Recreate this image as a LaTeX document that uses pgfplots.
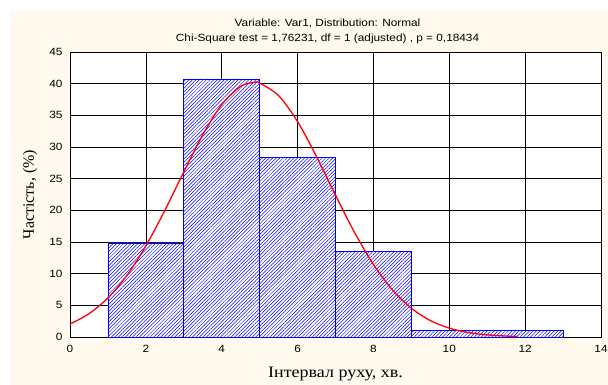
\documentclass[border=0pt]{standalone}
\usepackage{fontspec}
\setmainfont{Liberation Serif}
\newfontfamily\arialS{Liberation Sans}[FakeStretch=1.13]
\newfontfamily\timesS{Liberation Serif}[FakeStretch=1.13]
\usepackage{pgfplots}
\pgfplotsset{compat=1.18}
\usetikzlibrary{patterns.meta}
\definecolor{cream}{HTML}{FFF9EE}
\definecolor{barblue}{RGB}{0,0,255}

\begin{document}
\begin{tikzpicture}
\useasboundingbox (-70bp,-48bp) rectangle (538bp,337bp);
\fill[cream] (-59bp,-48bp) rectangle (538bp,327bp);
\begin{axis}[
  at={(0,0)}, anchor=south west,
  scale only axis, width=531bp, height=285bp,
  xmin=0, xmax=14, ymin=0, ymax=45,
  xtick={0,2,...,14}, ytick={0,5,...,45},
  grid=major, major grid style={black, line width=0.6pt},
  major tick length=0pt,
  axis line style={black, line width=1pt},
  axis background/.style={fill=white},
  ticklabel style={font=\arialS\fontsize{10.5}{12}\selectfont, text=black},
  /pgf/number format/assume math mode=true,
  xticklabel style={yshift=-5bp},
  yticklabel style={xshift=-4bp},
  xlabel={\timesS\fontsize{16}{18}\selectfont Інтервал руху, хв.},
  xlabel style={at={(rel axis cs:0.5,0)}, anchor=base, yshift=-40bp},
  ylabel={\fontsize{16}{18}\selectfont Частість, (\%)},
  ylabel style={at={(axis description cs:-0.0753,0.5)}, anchor=center},
  clip=false,
]
\addplot[ybar interval, draw=barblue, line width=0.8pt,
  preaction={fill=white},
  pattern={Lines[angle=45, distance=2.5pt, line width=0.5pt]}, pattern color=barblue]
  coordinates {(1,14.85) (3,40.75) (5,28.3) (7,13.5) (9,1.05) (13,1.05)};
\addplot[red, line width=1.3pt, smooth, no marks] coordinates {
(0,2.05) (0.5,3.67) (1,6.16) (1.5,9.71) (2,14.38) (2.5,19.98) (3,26.07)
(3.5,31.92) (4,36.69) (4.5,39.58) (4.85,40.2) (5,40.09) (5.5,38.11)
(6,34.01) (6.5,28.48) (7,22.39) (7.5,16.53) (8,11.45) (8.5,7.44)
(9,4.54) (9.5,2.60) (10,1.40) (10.5,0.71) (11,0.33) (11.5,0.15) (11.8,0.09)};
\node[anchor=base, font=\arialS\fontsize{10.5}{12}\selectfont] at (rel axis cs:0.485,1) [yshift=26bp] {Variable: Var1, Distribution: Normal};
\node[anchor=base, font=\arialS\fontsize{10.5}{12}\selectfont] at (rel axis cs:0.485,1) [yshift=11bp] {Chi-Square test = 1,76231, df = 1 (adjusted) , p = 0,18434};
\end{axis}
\end{tikzpicture}
\end{document}
